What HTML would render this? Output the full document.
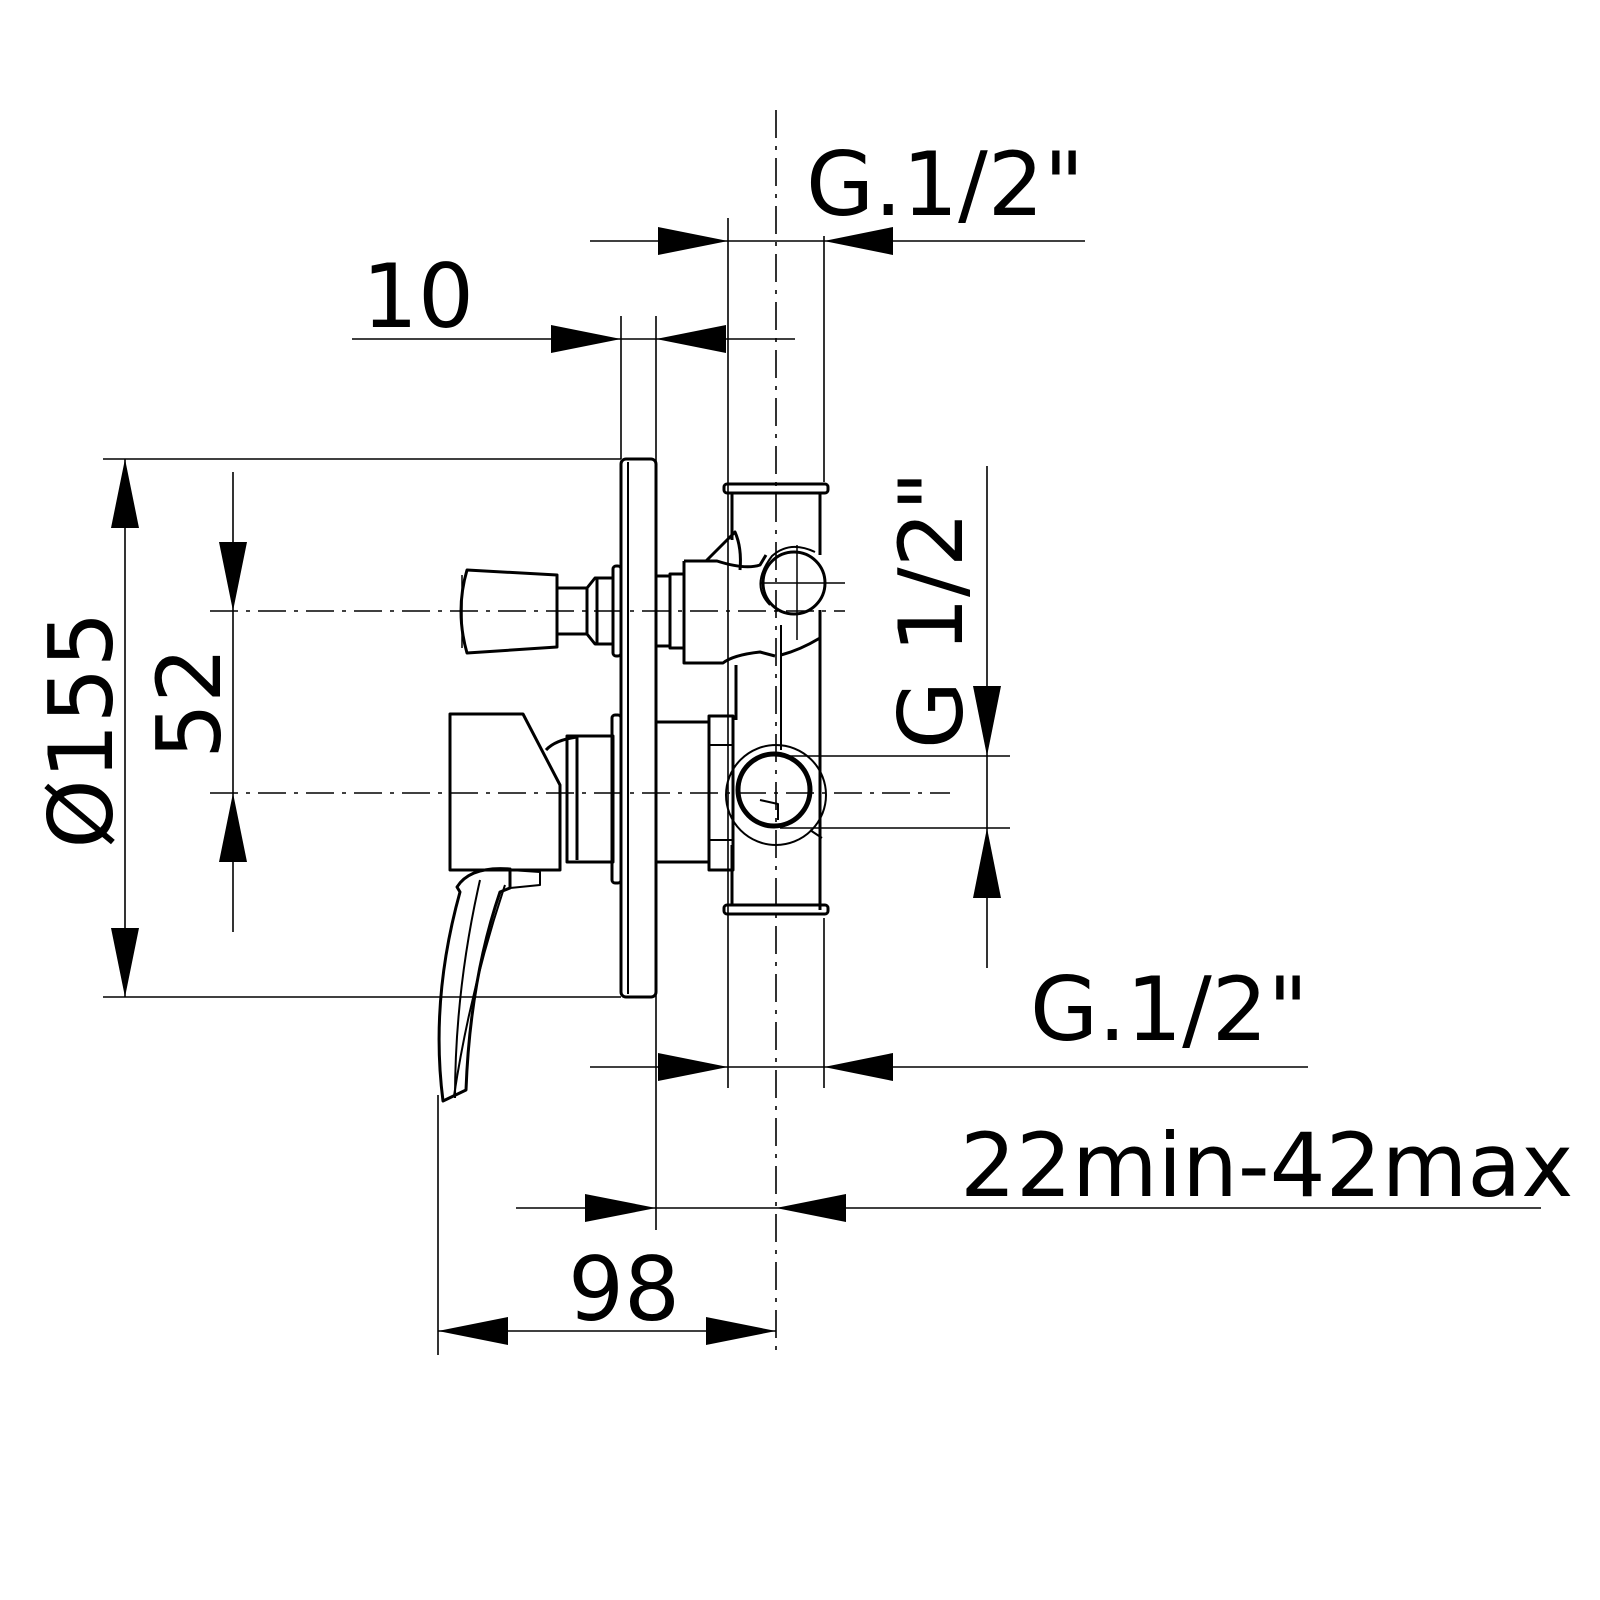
<!DOCTYPE html>
<html><head><meta charset="utf-8"><style>
html,body{margin:0;padding:0;background:#fff;}
svg{display:block}
text{font-family:"DejaVu Sans","Liberation Sans",sans-serif;fill:#000}
</style></head><body>
<svg width="1600" height="1600" viewBox="0 0 1600 1600" xmlns="http://www.w3.org/2000/svg">
<g stroke="#000" fill="none" stroke-width="1.6">
<line x1="776" y1="110" x2="776" y2="1355" stroke-dasharray="28,8,4,8"/>
<line x1="210" y1="611" x2="845" y2="611" stroke-dasharray="28,8,4,8"/>
<line x1="210" y1="793" x2="950" y2="793" stroke-dasharray="28,8,4,8"/>
<line x1="621" y1="316" x2="621" y2="459"/>
<line x1="656" y1="316" x2="656" y2="1230"/>
<line x1="728" y1="218" x2="728" y2="1088"/>
<line x1="824" y1="236" x2="824" y2="482"/>
<line x1="824" y1="918" x2="824" y2="1088"/>
<line x1="103" y1="459" x2="621" y2="459"/>
<line x1="103" y1="997" x2="621" y2="997"/>
<line x1="780" y1="756" x2="1010" y2="756"/>
<line x1="780" y1="828" x2="1010" y2="828"/>
<line x1="438" y1="1095" x2="438" y2="1355"/>
<line x1="590" y1="241" x2="1085" y2="241"/>
<line x1="352" y1="339" x2="795" y2="339"/>
<line x1="125" y1="459" x2="125" y2="997"/>
<line x1="233" y1="472" x2="233" y2="932"/>
<line x1="987" y1="466" x2="987" y2="968"/>
<line x1="590" y1="1067" x2="1308" y2="1067"/>
<line x1="516" y1="1208" x2="1541" y2="1208"/>
<line x1="438" y1="1331" x2="776" y2="1331"/>
</g>
<g fill="#000">
<polygon points="728,241 658,227 658,255"/>
<polygon points="824,241 893,227 893,255"/>
<polygon points="621,339 551,325 551,353"/>
<polygon points="656,339 726,325 726,353"/>
<polygon points="125,459 111,528 139,528"/>
<polygon points="125,997 111,928 139,928"/>
<polygon points="233,611 219,542 247,542"/>
<polygon points="233,793 219,862 247,862"/>
<polygon points="987,756 973,686 1001,686"/>
<polygon points="987,828 973,898 1001,898"/>
<polygon points="728,1067 658,1053 658,1081"/>
<polygon points="824,1067 893,1053 893,1081"/>
<polygon points="656,1208 585,1194 585,1222"/>
<polygon points="776,1208 846,1194 846,1222"/>
<polygon points="438,1331 508,1317 508,1345"/>
<polygon points="776,1331 706,1317 706,1345"/>
</g>
<text x="806" y="215" font-size="88">G.1/2"</text>
<text x="362" y="327" font-size="88">10</text>
<text x="1030" y="1040" font-size="88">G.1/2"</text>
<text x="960" y="1196" font-size="88">22min-42max</text>
<text x="568" y="1320" font-size="88">98</text>
<text transform="translate(112,730) rotate(-90)" font-size="88" text-anchor="middle">Ø155</text>
<text transform="translate(220,703) rotate(-90)" font-size="88" text-anchor="middle">52</text>
<text transform="translate(962,610) rotate(-90)" font-size="88" text-anchor="middle">G 1/2"</text>

<g stroke="#000" fill="none" stroke-width="3" stroke-linejoin="round">
<rect x="621" y="459" width="35" height="538" rx="5"/>
<line x1="628" y1="462" x2="628" y2="994" stroke-width="2"/>
<path d="M467,570 L557,575 L557,647 L467,653 Q455,611 467,570 Z"/>
<line x1="462" y1="575" x2="462" y2="648" stroke-width="1.5"/>
<rect x="557" y="588" width="30" height="46"/>
<path d="M587,588 L595,578 L613,578 L613,644 L595,644 L587,634"/>
<line x1="597" y1="578" x2="597" y2="644"/>
<rect x="613" y="566" width="8" height="90" rx="3"/>
<rect x="612" y="715" width="9" height="168" rx="3"/>
<path d="M450,870 L450,714 L523,714 L560,785 L560,870 Z"/>
<path d="M546,750 Q555,740 577,737"/>
<rect x="567" y="736" width="46" height="126"/>
<line x1="577" y1="737" x2="577" y2="860"/>
<path d="M457,887 Q470,866 510,869 L510,888 L500,892 Q470,980 466,1090 L443,1101 Q430,1000 460,892 Z"/>
<path d="M505,885 Q470,990 454,1096" stroke-width="2"/>
<path d="M480,880 Q455,990 455,1098" stroke-width="2"/>
<path d="M510,888 L540,885 L540,872 L510,870" stroke-width="2"/>
<rect x="656" y="576" width="14" height="70"/>
<rect x="670" y="574" width="14" height="74"/>
<path d="M684,561 L717,561 Q745,570 760,565 L766,555 M684,561 L684,663 L723,663 Q733,655 760,652 L775,656"/>
<path d="M706,561 L735,532 Q742,548 740,570"/>
<rect x="656" y="722" width="53" height="140"/>
<rect x="709" y="716" width="24" height="154"/>
<line x1="709" y1="745" x2="733" y2="745" stroke-width="2"/>
<line x1="709" y1="840" x2="733" y2="840" stroke-width="2"/>
<line x1="732" y1="492" x2="732" y2="540"/>
<line x1="820" y1="492" x2="820" y2="555"/>
<line x1="820" y1="610" x2="820" y2="910"/>
<line x1="736" y1="665" x2="736" y2="720"/>
<line x1="732" y1="845" x2="732" y2="905"/>
<line x1="781" y1="625" x2="781" y2="750" stroke-width="2"/>
<path d="M781,655 Q800,650 820,638"/>
<rect x="724" y="484" width="104" height="9" rx="3" stroke-width="3"/>
<rect x="724" y="905" width="104" height="9" rx="3" stroke-width="3"/>
<circle cx="794" cy="583" r="31"/>
<path d="M770,605 Q750,585 772,556 Q790,540 815,552" stroke-width="2"/>
<line x1="760" y1="583" x2="845" y2="583" stroke-width="1.5"/>
<line x1="797" y1="545" x2="797" y2="640" stroke-width="1.5"/>
<circle cx="774" cy="790" r="36" stroke-width="5"/>
<circle cx="776" cy="795" r="50" stroke-width="2"/>
<path d="M760,800 L778,804 L778,820" stroke-width="2"/>
<path d="M810,830 L822,838" stroke-width="2"/>
</g>
</svg>
</body></html>
